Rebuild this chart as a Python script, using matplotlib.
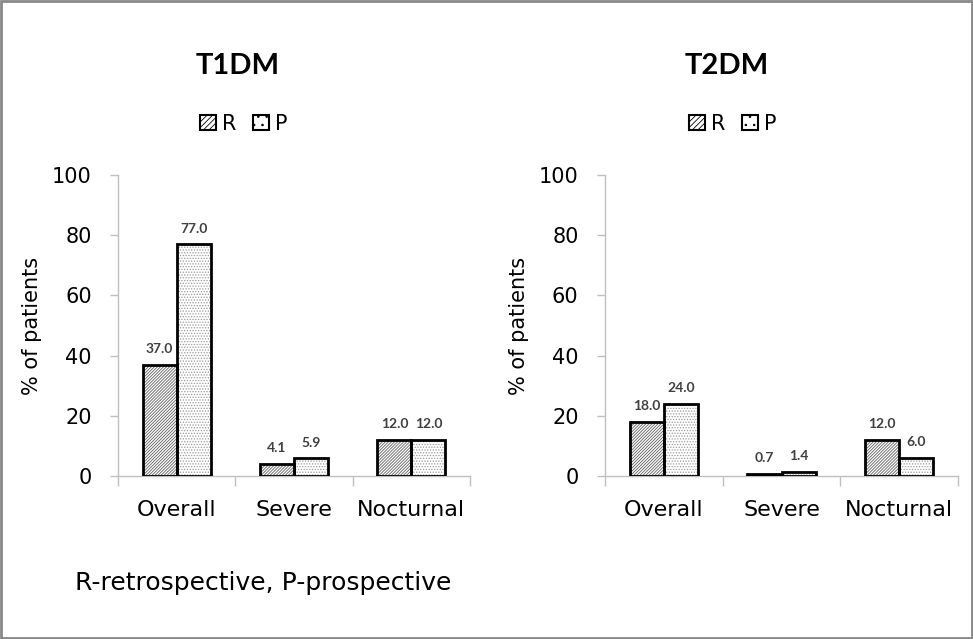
"""Hypoglycaemia rates, retrospective vs prospective, T1DM and T2DM"""

import matplotlib.pyplot as plt
import matplotlib.patches as mpatches
import numpy as np

categories = ['Overall', 'Severe', 'Nocturnal']
t1dm_r = [37.0, 4.1, 12.0]
t1dm_p = [77.0, 5.9, 12.0]
t2dm_r = [18.0, 0.7, 12.0]
t2dm_p = [24.0, 1.4, 6.0]
panel_titles = ['T1DM', 'T2DM']
y_ticks = [0, 20, 40, 60, 80, 100]

plt.rcParams['font.family'] = ['DejaVu Sans']
plt.rcParams['hatch.linewidth'] = 0.6

fig = plt.figure(figsize=(9.73, 6.39), dpi=100)
fig.patch.set_facecolor('white')

axes_pos = [[0.1213, 0.2551, 0.3618, 0.471],
            [0.6218, 0.2551, 0.363, 0.471]]
title_x = [238 / 973, 727 / 973]
legend_x = [244 / 973, 733 / 973]
panels = [(t1dm_r, t1dm_p), (t2dm_r, t2dm_p)]

x = np.arange(len(categories))
w = 0.29
spine_col = '#bfbfbf'

for pos, title, tx, lx, (r_vals, p_vals) in zip(axes_pos, panel_titles,
		title_x, legend_x, panels):
	ax = fig.add_axes(pos)
	# hatch layer, then the black outline on top
	ax.bar(x - w / 2, r_vals, w, color='white', hatch='///////////',
		edgecolor='#606060', linewidth=0, zorder=2)
	ax.bar(x + w / 2, p_vals, w, color='white', hatch='......',
		edgecolor='#9a9a9a', linewidth=0, zorder=2)
	ax.bar(x - w / 2, r_vals, w, fill=False, edgecolor='black',
		linewidth=2, zorder=3)
	ax.bar(x + w / 2, p_vals, w, fill=False, edgecolor='black',
		linewidth=2, zorder=3)

	for xs, vals in ((x - w / 2, r_vals), (x + w / 2, p_vals)):
		for xi, v in zip(xs, vals):
			ax.annotate(f'{v:.1f}', (xi, v), xytext=(0, 7),
				textcoords='offset points', ha='center', va='bottom',
				fontsize=10, fontweight='bold', color='#404040',
				family='Lato')

	ax.set_xlim(-0.5, 2.5)
	ax.set_ylim(0, 100)
	ax.set_yticks(y_ticks)
	ax.tick_params(axis='y', labelsize=15, length=6, width=1,
		color=spine_col, pad=13)
	ax.set_xticks(x)
	ax.set_xticklabels(categories)
	ax.tick_params(axis='x', which='major', length=0, labelsize=16, pad=17)
	ax.set_xticks([-0.5, 0.5, 1.5, 2.5], minor=True)
	ax.tick_params(axis='x', which='minor', length=7, width=1,
		color=spine_col)
	ax.set_ylabel('% of patients', fontsize=15)
	ax.yaxis.set_label_coords(-0.216, 0.5)
	for s in ('top', 'right'):
		ax.spines[s].set_visible(False)
	for s in ('left', 'bottom'):
		ax.spines[s].set_color(spine_col)
		ax.spines[s].set_linewidth(1)

	fig.text(tx, 1 - 66 / 639, title, ha='center', va='center',
		fontsize=21, fontweight='bold', family='Lato')
	handles = [
		mpatches.Patch(facecolor='white', edgecolor='black', hatch='//////',
			linewidth=1.5, label='R'),
		mpatches.Patch(facecolor='white', edgecolor='black', hatch='..',
			linewidth=1.5, label='P')]
	fig.legend(handles=handles, loc='center', bbox_to_anchor=(lx, 1 - 124 / 639),
		ncol=2, frameon=False, fontsize=15, handlelength=0.75,
		handleheight=0.75, handletextpad=0.3, columnspacing=0.8)

fig.text(0.077, 0.088, 'R-retrospective, P-prospective', fontsize=18,
	va='center')

fig.add_artist(mpatches.Rectangle((0.001, 0.001), 0.998, 0.998,
	transform=fig.transFigure, fill=False, edgecolor='#888888', linewidth=2))

fig.savefig('out.png', dpi=100)
